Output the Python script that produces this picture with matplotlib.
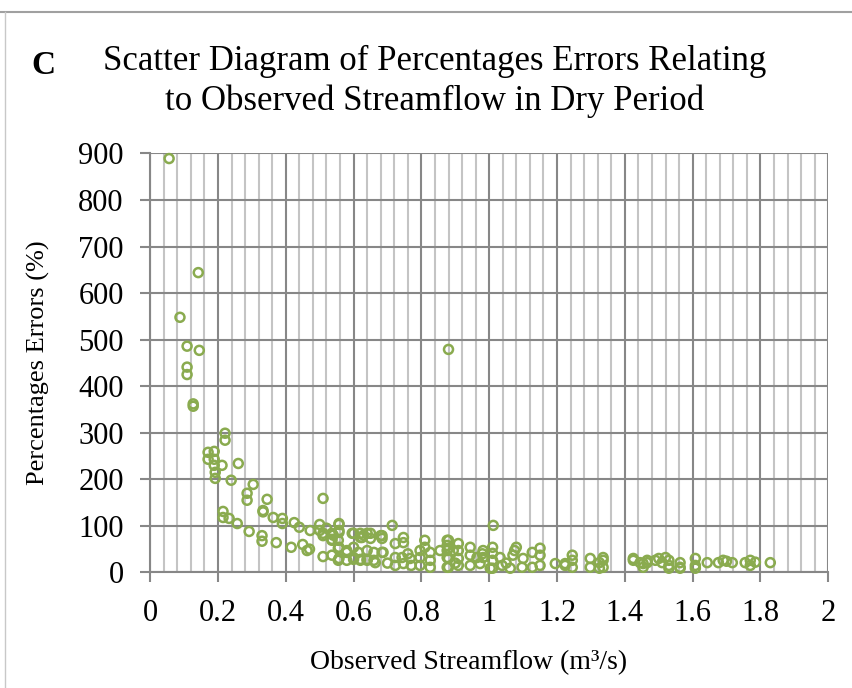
import matplotlib.pyplot as plt
from matplotlib.lines import Line2D
from matplotlib.ticker import MultipleLocator

# observed streamflow (m3/s) and percentage errors (%)
flow = [0.056, 0.142, 0.088, 0.109, 0.145, 0.109, 0.109, 0.127, 0.127,
        0.221, 0.221, 0.171, 0.189, 0.171, 0.189, 0.189, 0.212, 0.192, 0.192,
        0.26, 0.239, 0.304, 0.286, 0.286, 0.345, 0.333, 0.333, 0.363, 0.39, 0.39,
        0.51, 0.215, 0.215, 0.233, 0.257, 0.292, 0.330, 0.330, 0.372, 0.416,
        0.463, 0.425, 0.44, 0.472, 0.50, 0.50, 0.51, 0.557, 0.557, 0.536,
        0.557, 0.51, 0.557, 0.58, 0.60, 0.62, 0.63, 0.64, 0.60, 0.62, 0.64,
        0.68, 0.687, 0.664,
        0.51, 0.536, 0.536, 0.557, 0.557, 0.555, 0.536, 0.555, 0.555, 0.58,
        0.58, 0.596, 0.60, 0.60, 0.62, 0.625, 0.614, 0.62, 0.65, 0.65, 0.64,
        0.64, 0.66, 0.66, 0.684, 0.684, 0.684, 0.714, 0.723, 0.723, 0.723,
        0.747, 0.747, 0.743, 0.747, 0.767, 0.77, 0.796, 0.796, 0.796, 0.81,
        0.81, 0.826, 0.826, 0.826, 0.855, 0.88, 0.88, 0.88, 0.88,
        0.876, 0.876, 0.876, 0.876, 0.876, 0.894, 0.909, 0.909, 0.909, 0.909,
        0.944, 0.944, 0.944, 0.964, 0.973, 0.982, 0.982, 1.012, 1.01, 1.01,
        1.01, 1.01, 1.003, 1.032, 1.038, 1.062, 1.07, 1.075, 1.08, 1.097,
        1.127, 1.127, 1.15, 1.15, 1.15, 1.195, 1.224, 1.224,
        1.245, 1.245, 1.245, 1.298, 1.298, 1.325, 1.325, 1.336, 1.336, 1.336,
        1.425, 1.425, 1.445, 1.454, 1.454, 1.466, 1.466, 1.49, 1.50, 1.51,
        1.52, 1.53, 1.53, 1.53, 1.563, 1.563, 1.563, 1.608, 1.608, 1.608,
        1.643, 1.676, 1.69, 1.70, 1.717, 1.755, 1.77, 1.77, 1.785, 1.829,
        0.88, 0.52, 0.54, 0.47, 0.45, 0.70, 0.76, 0.90, 0.98, 1.05, 1.10]
error = [889, 644, 548, 486, 477, 441, 425, 357, 362,
         299, 284, 258, 260, 243, 243, 230, 230, 215, 202,
         234, 198, 189, 170, 155, 157, 133, 130, 118, 116, 105,
         159, 131, 118, 116, 105, 88, 79, 67, 64, 54,
         47, 107, 97, 90, 103, 90, 84, 103, 86, 71,
         54, 34, 30, 43, 84, 75, 80, 84, 28, 28, 28,
         79, 43, 21,
         79, 84, 69, 105, 90, 69, 37, 52, 26, 47,
         26, 84, 54, 32, 84, 75, 43, 26, 84, 73, 47,
         26, 43, 26, 79, 73, 43, 101, 62, 32, 15,
         75, 64, 32, 19, 30, 15, 47, 32, 15, 69,
         54, 43, 26, 11, 47, 69, 52, 30, 11,
         69, 58, 47, 32, 11, 47, 62, 47, 30, 15,
         54, 37, 15, 32, 19, 47, 32, 101, 54, 41,
         26, 9, 9, 32, 15, 9, 37, 47, 54, 11,
         43, 11, 52, 37, 15, 19, 15, 19,
         37, 26, 11, 30, 11, 21, 9, 32, 26, 11,
         30, 26, 21, 19, 11, 21, 26, 26, 30, 21,
         32, 26, 15, 9, 21, 9, 11, 30, 15, 9,
         21, 21, 26, 24, 21, 21, 15, 26, 22, 21,
         479, 95, 80, 50, 60, 20, 40, 20, 40, 20, 30]

x_ticks = [0, 0.2, 0.4, 0.6, 0.8, 1, 1.2, 1.4, 1.6, 1.8, 2]
x_labels = ['0', '0.2', '0.4', '0.6', '0.8', '1', '1.2', '1.4', '1.6', '1.8', '2']
y_ticks = [0, 100, 200, 300, 400, 500, 600, 700, 800, 900]

fig = plt.figure(figsize=(8.53, 6.88), dpi=100)
ax = fig.add_axes([0.176, 0.168, 0.795, 0.609])

serif = 'Liberation Serif'

ax.scatter(flow, error, s=42, facecolors='none', edgecolors='#8AAB4F',
           linewidths=1.8, zorder=3, clip_on=False)

ax.set_xlim(0, 2)
ax.set_ylim(0, 900)
ax.set_xticks(x_ticks)
ax.set_xticklabels(x_labels, family=serif)
ax.set_yticks(y_ticks)
ax.set_yticklabels([str(v) for v in y_ticks], family=serif)
ax.xaxis.set_minor_locator(MultipleLocator(0.04))

# excel-like grid
ax.grid(which='major', color='#878787', linewidth=1.5)
ax.grid(which='minor', axis='x', color='#C4C4C4', linewidth=1.5)
ax.set_axisbelow(True)
for s in ['top', 'right']:
    ax.spines[s].set_visible(False)
for s in ['left', 'bottom']:
    ax.spines[s].set_color('#878787')
    ax.spines[s].set_linewidth(1.5)
ax.tick_params(which='major', length=7, width=1.5, color='#878787',
               labelsize=22, pad=12)
ax.tick_params(which='minor', length=0)

ax.set_xlabel('Observed Streamflow (m³/s)', family=serif, fontsize=20)
ax.set_ylabel('Percentages Errors (%)', family=serif, fontsize=19)
ax.xaxis.set_label_coords(0.47, -0.186)
ax.yaxis.set_label_coords(-0.148, 0.5)

fig.text(0.509, 0.882, 'Scatter Diagram of Percentages Errors Relating\n'
         'to Observed Streamflow in Dry Period', family=serif, fontsize=25,
         ha='center', va='center', linespacing=1.25)
fig.text(0.037, 0.905, 'C', family=serif, fontsize=24, fontweight='bold',
         ha='left', va='center')

# frame lines on top and left like the original panel
fig.add_artist(Line2D([0, 1], [0.983, 0.983], color='#A0A0A0', linewidth=1.5))
fig.add_artist(Line2D([0.006, 0.006], [0, 0.983], color='#C8C8C8', linewidth=1))

plt.savefig('out.png', dpi=100)
